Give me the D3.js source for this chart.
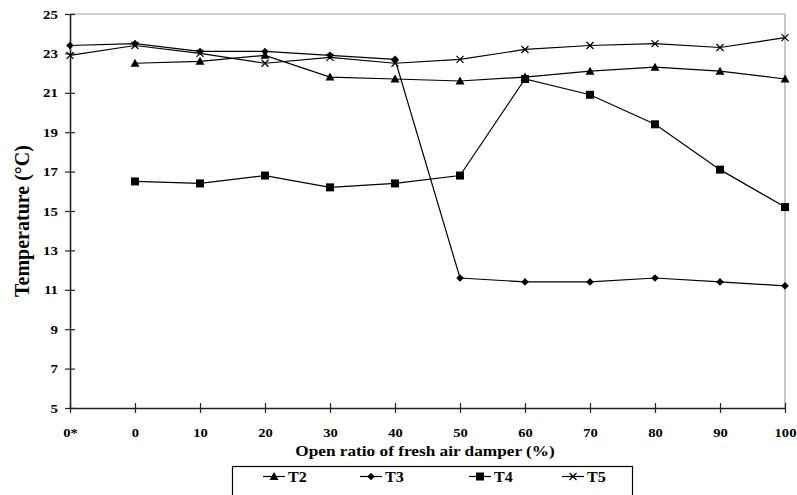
<!DOCTYPE html>
<html>
<head>
<meta charset="utf-8">
<script src="https://cdn.jsdelivr.net/npm/d3@7"></script>
<style>
  html, body { margin: 0; padding: 0; background: #fff; }
  svg { display: block; }
  text { font-family: "Liberation Serif", "Times New Roman", serif; font-weight: bold; fill: #000; }
</style>
</head>
<body>
<svg id="chart" width="797" height="495"></svg>
<script>
// Damper opening categories (the first one is the reference state "0*")
const categories = ["0*", "0", "10", "20", "30", "40", "50", "60", "70", "80", "90", "100"];

// Measured temperatures (°C); null where no measurement was taken
const t2 = [null, 22.5, 22.6, 22.9, 21.8, 21.7, 21.6, 21.8, 22.1, 22.3, 22.1, 21.7];
const t3 = [23.4, 23.5, 23.1, 23.1, 22.9, 22.7, 11.6, 11.4, 11.4, 11.6, 11.4, 11.2];
const t4 = [null, 16.5, 16.4, 16.8, 16.2, 16.4, 16.8, 21.7, 20.9, 19.4, 17.1, 15.2];
const t5 = [22.9, 23.4, 23.0, 22.5, 22.8, 22.5, 22.7, 23.2, 23.4, 23.5, 23.3, 23.8];

const yTicks = [5, 7, 9, 11, 13, 15, 17, 19, 21, 23, 25];

const seriesNames = ["T2", "T3", "T4", "T5"];
const seriesValues = [t2, t3, t4, t5];
const seriesSymbols = ["triangle", "diamond", "square", "cross"];

const svg = d3.select("#chart");
const margin = { left: 70, right: 12, top: 14, bottom: 87 };
const W = 797, H = 495;
const x0 = margin.left, x1 = W - margin.right, y0 = H - margin.bottom, y1 = margin.top;

const x = d3.scalePoint().domain(categories).range([x0, x1]).padding(0);
const y = d3.scaleLinear().domain([5, 25]).range([y0, y1]);

// plot frame: grey top and right edges
svg.append("line").attr("x1", x0).attr("x2", x1).attr("y1", y1).attr("y2", y1)
  .attr("stroke", "#a0a0a0").attr("stroke-width", 1.2);
svg.append("line").attr("x1", x1).attr("x2", x1).attr("y1", y1).attr("y2", y0)
  .attr("stroke", "#a0a0a0").attr("stroke-width", 1.2);

// y axis
const yAxis = svg.append("g").attr("transform", `translate(${x0},0)`)
  .call(d3.axisLeft(y).tickValues(yTicks).tickSize(5).tickPadding(8).tickFormat(d3.format("d")));
yAxis.select(".domain").attr("d", `M0.5,${y0}V${y1}`).attr("stroke", "#222").attr("stroke-width", 1.6);
yAxis.selectAll(".tick line").attr("x1", -5).attr("x2", 5).attr("stroke", "#222").attr("stroke-width", 1.2);
yAxis.selectAll(".tick text")
  .attr("x", 0)
  .attr("transform", "translate(-12,0) scale(1.15,1)")
  .style("font-size", "13px")
  .style("font-family", '"Liberation Serif", serif').style("font-weight", "bold");

// x axis
const xAxis = svg.append("g").attr("transform", `translate(0,${y0})`)
  .call(d3.axisBottom(x).tickSize(5).tickPadding(15));
xAxis.select(".domain").attr("d", `M${x0},0.5H${x1}`).attr("stroke", "#222").attr("stroke-width", 1.6);
xAxis.selectAll(".tick line").attr("y1", -5).attr("y2", 5).attr("stroke", "#222").attr("stroke-width", 1.2);
xAxis.selectAll(".tick text")
  .attr("transform", "scale(1.12,1)")
  .style("font-size", "13px")
  .style("font-family", '"Liberation Serif", serif').style("font-weight", "bold");

// axis titles
svg.append("text")
  .attr("transform", `translate(${(298 + 552) / 2},456) scale(1.19,1)`)
  .attr("text-anchor", "middle")
  .style("font-size", "14.5px").text("Open ratio of fresh air damper (%)");
svg.append("text").attr("transform", "translate(29,221) rotate(-90)")
  .attr("text-anchor", "middle").style("font-size", "20px").text("Temperature (°C)");

// marker shapes
function marker(g, kind) {
  if (kind === "triangle") {
    g.append("path").attr("d", "M0,-4.5L4.5,3.5L-4.5,3.5Z").attr("fill", "#000");
  } else if (kind === "diamond") {
    g.append("path").attr("d", "M0,-3.8L3.8,0L0,3.8L-3.8,0Z").attr("fill", "#000");
  } else if (kind === "square") {
    g.append("rect").attr("x", -4).attr("y", -4).attr("width", 8).attr("height", 8).attr("fill", "#000");
  } else {
    g.append("path").attr("d", "M-3.5,-3.5L3.5,3.5M-3.5,3.5L3.5,-3.5")
      .attr("stroke", "#000").attr("stroke-width", 1.2).attr("fill", "none");
  }
}

const line = d3.line()
  .defined(d => d.v !== null)
  .x(d => x(d.c))
  .y(d => y(d.v));

seriesValues.forEach((vals, i) => {
  const pts = vals.map((v, k) => ({ c: categories[k], v }));
  svg.append("path").datum(pts).attr("d", line)
    .attr("fill", "none").attr("stroke", "#000").attr("stroke-width", 1.2);
  pts.filter(p => p.v !== null).forEach(p => {
    const g = svg.append("g").attr("transform", `translate(${x(p.c)},${y(p.v)})`);
    marker(g, seriesSymbols[i]);
  });
});

// legend box
const legend = svg.append("g");
legend.append("rect").attr("x", 232.5).attr("y", 466.5).attr("width", 400).attr("height", 40)
  .attr("fill", "#fff").attr("stroke", "#000").attr("stroke-width", 1.2);
const legendX = [274, 371, 480, 573];
seriesNames.forEach((name, i) => {
  const cx = legendX[i];
  legend.append("line").attr("x1", cx - 11).attr("x2", cx + 11).attr("y1", 476.5).attr("y2", 476.5)
    .attr("stroke", "#000").attr("stroke-width", 1.2);
  const g = legend.append("g").attr("transform", `translate(${cx},476.5)`);
  marker(g, seriesSymbols[i]);
  legend.append("text")
    .attr("transform", `translate(${cx + 14},482) scale(1.15,1)`)
    .style("font-size", "14px").text(name);
});
</script>
</body>
</html>
